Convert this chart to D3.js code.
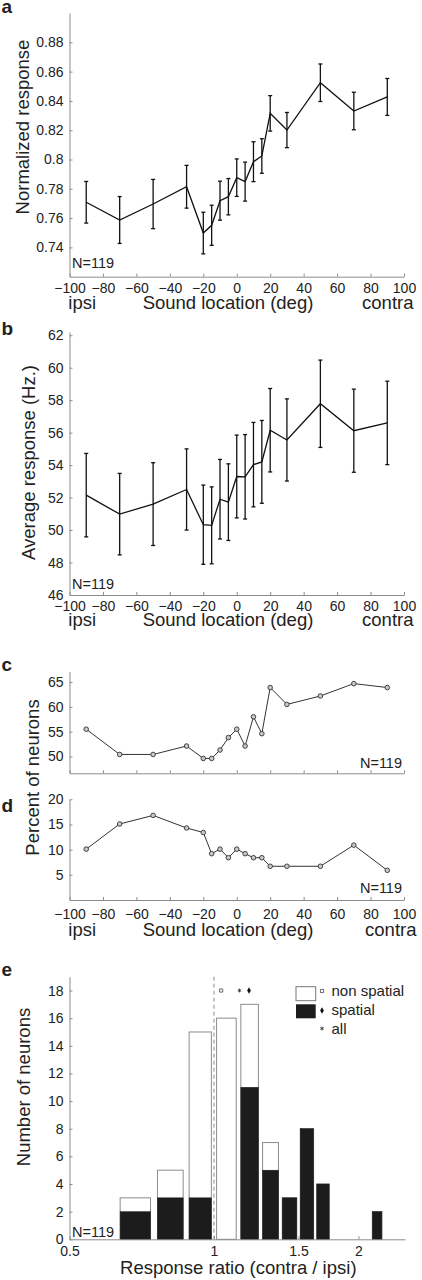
<!DOCTYPE html>
<html>
<head>
<meta charset="utf-8">
<script src="https://cdn.jsdelivr.net/npm/d3@7/dist/d3.min.js"></script>
<style>
  html, body { margin: 0; padding: 0; background: #fff; }
  svg { display: block; }
  text { font-family: "Liberation Sans", Arial, Helvetica, sans-serif; fill: #222; }
</style>
</head>
<body>
<script>
// ---------- DATA ----------
const angles = [-90, -70, -50, -30, -20, -15, -10, -5, 0, 5, 10, 15, 20, 30, 50, 70, 90];
const xTicks = [-100, -80, -60, -40, -20, 0, 20, 40, 60, 80, 100];

// panel a: normalized response
const normMean = [0.7708, 0.7587, 0.7696, 0.7814, 0.7498, 0.7551, 0.7719, 0.7746, 0.7876, 0.7849, 0.7985, 0.8024, 0.8315, 0.8201, 0.8524, 0.8331, 0.8427];
const normErr  = [0.0142, 0.0160, 0.0168, 0.0146, 0.0142, 0.0137, 0.0133, 0.0124, 0.0128, 0.0133, 0.0136, 0.0118, 0.0121, 0.0120, 0.0128, 0.0128, 0.0126];
const normTicks = [0.74, 0.76, 0.78, 0.8, 0.82, 0.84, 0.86, 0.88];

// panel b: average response (Hz)
const rateMean = [52.15, 50.98, 51.60, 52.50, 50.33, 50.29, 51.90, 51.72, 53.30, 53.28, 54.03, 54.20, 56.15, 55.55, 57.78, 56.12, 56.60];
const rateErr  = [2.57, 2.51, 2.55, 2.50, 2.44, 2.37, 2.45, 2.36, 2.55, 2.60, 2.60, 2.55, 2.57, 2.53, 2.69, 2.56, 2.57];
const rateTicks = [46, 48, 50, 52, 54, 56, 58, 60, 62];

// panel c: percent of neurons (contra-preferring)
const pctC = [55.5, 50.4, 50.4, 52.1, 49.6, 49.6, 51.3, 53.8, 55.5, 52.1, 58.0, 54.6, 63.9, 60.5, 62.2, 64.7, 63.9];
const pctCTicks = [50, 55, 60, 65];

// panel d: percent of neurons
const pctD = [10.1, 15.1, 16.8, 14.3, 13.4, 9.2, 10.1, 8.4, 10.1, 9.2, 8.4, 8.4, 6.7, 6.7, 6.7, 10.9, 5.9];
const pctDTicks = [5, 10, 15, 20];

// panel e: histogram of response ratio
const binCenters = [0.6875, 0.8125, 0.9375, 1.0625, 1.1875, 1.3125, 1.4375, 1.5625, 1.6875, 2.1875];
const countAll     = [3, 5, 15, 16, 17, 7, 3, 8, 4, 2];
const countSpatial = [2, 3, 3, 0, 11, 5, 3, 8, 4, 2];
const countTicks = [0, 2, 4, 6, 8, 10, 12, 14, 16, 18];
const ratioTicks = [0.5, 1, 1.5, 2];
const meanNonSpatial = 1.035, meanAll = 1.13, meanSpatial = 1.183;
const legendLabels = ["non spatial", "spatial", "all"];

// ---------- DRAW ----------
const W = 422, H = 1280;
const svg = d3.select("body").append("svg").attr("width", W).attr("height", H);
const AX = "#8c8c8c";
const FONT_TICK = "14px";
const FONT_LAB = "18.5px";

const x = d3.scaleLinear().domain([-100, 100]).range([69.5, 404]);

function styleAxis(g) {
  g.select(".domain").attr("stroke", AX).attr("stroke-width", 1);
  g.selectAll(".tick line").attr("stroke", AX).attr("stroke-width", 1);
  g.selectAll(".tick text").style("font-size", FONT_TICK).attr("fill", "#222");
}

function yAxis(scale, ticks, fmt) {
  const g = svg.append("g").attr("transform", "translate(69.5,0)")
    .call(d3.axisLeft(scale).tickValues(ticks).tickFormat(fmt || d3.format("")).tickSize(-3).tickSizeOuter(0).tickPadding(6));
  styleAxis(g);
  return g;
}
function xAxis(scale, y, ticks, pad, labels) {
  const g = svg.append("g").attr("transform", `translate(0,${y})`)
    .call(d3.axisBottom(scale).tickValues(ticks).tickFormat(labels ? d3.format("") : () => "").tickSize(-3).tickSizeOuter(0).tickPadding(pad));
  styleAxis(g);
  return g;
}
function panelLabel(t, y) {
  svg.append("text").attr("x", 1.5).attr("y", y).text(t)
    .style("font-size", "19px").style("font-weight", "bold");
}
function yLabel(t, cx, cy) {
  svg.append("text").attr("transform", `translate(${cx},${cy}) rotate(-90)`)
    .attr("text-anchor", "middle").text(t).style("font-size", FONT_LAB);
}
function xLabels(baseline, contraEnd) {
  svg.append("text").attr("x", 68.3).attr("y", baseline).text("ipsi").style("font-size", FONT_LAB);
  svg.append("text").attr("x", 228).attr("y", baseline).attr("text-anchor", "middle").text("Sound location (deg)").style("font-size", FONT_LAB);
  svg.append("text").attr("x", contraEnd).attr("y", baseline).attr("text-anchor", "end").text("contra").style("font-size", FONT_LAB);
}
function nLabel(xp, yp, anchor) {
  svg.append("text").attr("x", xp).attr("y", yp).attr("text-anchor", anchor).text("N=119").style("font-size", "14.5px");
}
function errorPanel(yScale, means, errs) {
  const g = svg.append("g");
  const line = d3.line().x((d, i) => x(angles[i])).y(d => yScale(d));
  g.append("path").datum(means).attr("d", line).attr("fill", "none").attr("stroke", "#111").attr("stroke-width", 1.3);
  const eb = g.selectAll("g.eb").data(means).join("g");
  eb.append("line").attr("x1", (d, i) => x(angles[i])).attr("x2", (d, i) => x(angles[i]))
    .attr("y1", (d, i) => yScale(d + errs[i])).attr("y2", (d, i) => yScale(d - errs[i]));
  eb.append("line").attr("x1", (d, i) => x(angles[i]) - 2).attr("x2", (d, i) => x(angles[i]) + 2)
    .attr("y1", (d, i) => yScale(d + errs[i])).attr("y2", (d, i) => yScale(d + errs[i]));
  eb.append("line").attr("x1", (d, i) => x(angles[i]) - 2).attr("x2", (d, i) => x(angles[i]) + 2)
    .attr("y1", (d, i) => yScale(d - errs[i])).attr("y2", (d, i) => yScale(d - errs[i]));
  eb.selectAll("line").attr("stroke", "#111").attr("stroke-width", 1.3);
}
function circlePanel(yScale, vals) {
  const g = svg.append("g");
  const line = d3.line().x((d, i) => x(angles[i])).y(d => yScale(d));
  g.append("path").datum(vals).attr("d", line).attr("fill", "none").attr("stroke", "#333").attr("stroke-width", 1);
  g.selectAll("circle").data(vals).join("circle")
    .attr("cx", (d, i) => x(angles[i])).attr("cy", d => yScale(d)).attr("r", 2.3)
    .attr("fill", "#c8c8c8").attr("stroke", "#333").attr("stroke-width", 0.9);
}

// ----- panel a -----
const ya = d3.scaleLinear().domain([0.72, 0.90]).range([276.7, 13]);
yAxis(ya, normTicks, d => String(d));
xAxis(x, 276.7, xTicks, 6, true);
errorPanel(ya, normMean, normErr);
panelLabel("a", 12.7);
yLabel("Normalized response", 29, 127);
xLabels(309, 413.5);
nLabel(72, 268, "start");

// ----- panel b -----
const yb = d3.scaleLinear().domain([46, 62.2]).range([595, 332]);
yAxis(yb, rateTicks);
xAxis(x, 595, xTicks, 5.7, true);
errorPanel(yb, rateMean, rateErr);
panelLabel("b", 335);
yLabel("Average response (Hz.)", 35, 462.5);
xLabels(626, 413.5);
nLabel(72, 589.3, "start");

// ----- panel c -----
const yc = d3.scaleLinear().domain([46.6, 67.1]).range([773.3, 671.7]);
yAxis(yc, pctCTicks);
xAxis(x, 773.3, xTicks, 6, false);
circlePanel(yc, pctC);
panelLabel("c", 671);
nLabel(402, 768, "end");

// ----- panel d -----
const yd = d3.scaleLinear().domain([0, 20]).range([900, 799.3]);
yAxis(yd, pctDTicks);
xAxis(x, 900, xTicks, 9.4, true);
circlePanel(yd, pctD);
panelLabel("d", 812);
nLabel(402, 893, "end");
yLabel("Percent of neurons", 39, 777.5);
xLabels(936, 416.5);

// ----- panel e -----
const xe = d3.scaleLog().base(2).domain([0.5, 2.5]).range([69.5, 405]);
const ye = d3.scaleLinear().domain([0, 19]).range([1239.3, 976.7]);
const bars = svg.append("g");
const halfW = 0.05;
bars.selectAll("rect.all").data(countAll).join("rect")
  .attr("x", (d, i) => xe(binCenters[i] - halfW)).attr("width", (d, i) => xe(binCenters[i] + halfW) - xe(binCenters[i] - halfW))
  .attr("y", d => ye(d)).attr("height", d => ye(0) - ye(d))
  .attr("fill", "#fff").attr("stroke", "#8c8c8c").attr("stroke-width", 1);
bars.selectAll("rect.sp").data(countSpatial).join("rect")
  .attr("x", (d, i) => xe(binCenters[i] - halfW)).attr("width", (d, i) => xe(binCenters[i] + halfW) - xe(binCenters[i] - halfW))
  .attr("y", d => ye(d)).attr("height", d => ye(0) - ye(d))
  .attr("fill", "#1c1c1c").attr("stroke", "#1c1c1c").attr("stroke-width", 0.5);

svg.append("line").attr("x1", xe(1)).attr("x2", xe(1)).attr("y1", ye(19)).attr("y2", ye(0))
  .attr("stroke", "#8c8c8c").attr("stroke-width", 1).attr("stroke-dasharray", "4,3");

const ge = yAxis(ye, countTicks);
xAxis(xe, 1239.3, ratioTicks, 6.7, true).selectAll(".tick text").text(d => String(d));

// mean markers
const sq = d3.symbol().type(d3.symbolSquare).size(10);
const dia = d3.symbol().type(d3.symbolDiamond).size(12);
const ast = d3.symbol().type(d3.symbolAsterisk).size(10);
svg.append("path").attr("d", sq()).attr("transform", `translate(${xe(meanNonSpatial)},${ye(18)})`)
  .attr("fill", "#fff").attr("stroke", "#444").attr("stroke-width", 0.8);
svg.append("path").attr("d", ast()).attr("transform", `translate(${xe(meanAll)},${ye(18)})`)
  .attr("fill", "none").attr("stroke", "#333").attr("stroke-width", 0.9);
svg.append("path").attr("d", dia()).attr("transform", `translate(${xe(meanSpatial)},${ye(18)})`)
  .attr("fill", "#111");

// legend
svg.append("rect").attr("x", 296).attr("y", 986.7).attr("width", 19.7).attr("height", 14)
  .attr("fill", "#fff").attr("stroke", "#777").attr("stroke-width", 1);
svg.append("rect").attr("x", 296).attr("y", 1004.3).attr("width", 19.7).attr("height", 14)
  .attr("fill", "#1c1c1c");
svg.append("path").attr("d", sq()).attr("transform", "translate(322,991)")
  .attr("fill", "#fff").attr("stroke", "#444").attr("stroke-width", 0.8);
svg.append("path").attr("d", dia()).attr("transform", "translate(322,1010.5)").attr("fill", "#111");
svg.append("path").attr("d", ast()).attr("transform", "translate(322,1028.5)")
  .attr("fill", "none").attr("stroke", "#333").attr("stroke-width", 0.9);
const legY = [996.3, 1015, 1034];
legendLabels.forEach((t, i) => {
  svg.append("text").attr("x", 331.5).attr("y", legY[i]).text(t).style("font-size", "15px");
});

panelLabel("e", 976);
yLabel("Number of neurons", 30, 1087);
svg.append("text").attr("x", 238.3).attr("y", 1274).attr("text-anchor", "middle")
  .text("Response ratio (contra / ipsi)").style("font-size", FONT_LAB);
nLabel(72, 1236.7, "start");
</script>
</body>
</html>
